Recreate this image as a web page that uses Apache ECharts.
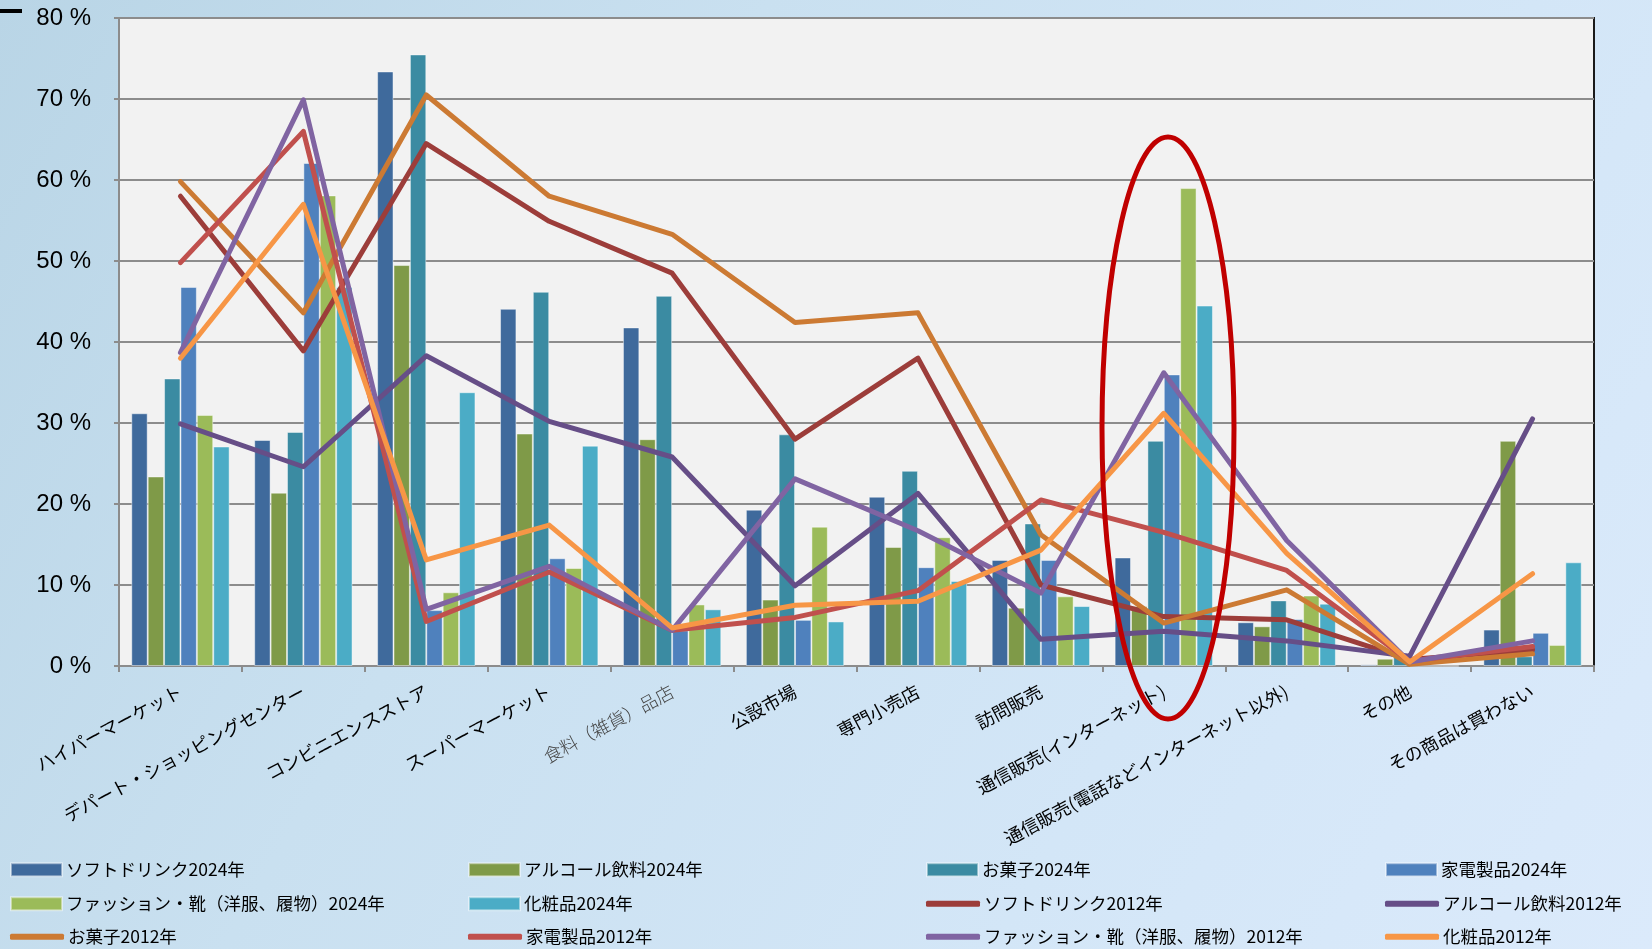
<!DOCTYPE html>
<html><head><meta charset="utf-8">
<script src="https://cdn.jsdelivr.net/npm/echarts@6/dist/echarts.min.js"></script>
<style>html,body{margin:0;padding:0;background:#cfe3f3;}#c{width:1652px;height:949px;}</style>
</head><body><div id="c"></div>
<script>
const categories = ['ハイパーマーケット','デパート・ショッピングセンター','コンビニエンスストア','スーパーマーケット','食料（雑貨）品店','公設市場','専門小売店','訪問販売','通信販売(インターネット)','通信販売(電話などインターネット以外)','その他','その商品は買わない'];
const yTicks = [0,10,20,30,40,50,60,70,80];

const soft2024  = [31.2, 27.9, 73.4, 44.1, 41.8, 19.3, 20.9, 13.1, 13.4, 5.4, 0.2, 4.5];
const alc2024   = [23.4, 21.4, 49.5, 28.7, 28.0, 8.2, 14.7, 7.2, 7.4, 4.9, 0.9, 27.8];
const snack2024 = [35.5, 28.9, 75.5, 46.2, 45.7, 28.6, 24.1, 17.6, 27.8, 8.1, 1.5, 1.2];
const appl2024  = [46.8, 62.1, 6.9, 13.3, 4.4, 5.7, 12.2, 13.1, 36.0, 5.8, 0, 4.1];
const fash2024  = [31.0, 58.1, 9.1, 12.1, 7.6, 17.2, 15.9, 8.6, 59.0, 8.7, 0, 2.6];
const cosm2024  = [27.1, 46.8, 33.8, 27.2, 7.0, 5.5, 10.5, 7.4, 44.5, 7.7, 0, 12.8];

const soft2012  = [58.0, 38.9, 64.5, 54.9, 48.5, 28.0, 38.0, 10.0, 6.1, 5.7, 0.8, 2.0];
const alc2012   = [29.9, 24.6, 38.3, 30.2, 25.8, 9.9, 21.3, 3.3, 4.3, 3.1, 1.2, 30.5];
const snack2012 = [59.8, 43.6, 70.5, 58.0, 53.3, 42.4, 43.6, 16.2, 5.3, 9.4, 0.2, 1.5];
const appl2012  = [49.8, 66.0, 5.5, 11.6, 4.4, 6.0, 9.3, 20.5, 16.5, 11.8, 0.6, 2.4];
const fash2012  = [38.7, 69.9, 7.0, 12.3, 4.4, 23.1, 16.7, 9.0, 36.2, 15.5, 0.5, 3.1];
const cosm2012  = [38.0, 57.0, 13.1, 17.4, 4.7, 7.5, 8.0, 14.3, 31.2, 13.9, 0.5, 11.4];

const barDefs = [
  ['ソフトドリンク2024年', soft2024, '#3F6A9C'],
  ['アルコール飲料2024年', alc2024, '#7F9A48'],
  ['お菓子2024年', snack2024, '#3B8BA2'],
  ['家電製品2024年', appl2024, '#4F81BD'],
  ['ファッション・靴（洋服、履物）2024年', fash2024, '#9BBB59'],
  ['化粧品2024年', cosm2024, '#4BACC6']
];
const lineDefs = [
  ['ソフトドリンク2012年', soft2012, '#9C3D3A'],
  ['アルコール飲料2012年', alc2012, '#664E87'],
  ['お菓子2012年', snack2012, '#CC7A33'],
  ['家電製品2012年', appl2012, '#C0504D'],
  ['ファッション・靴（洋服、履物）2012年', fash2012, '#8064A2'],
  ['化粧品2012年', cosm2012, '#F79646']
];

const series = [];
barDefs.forEach(([n, d, c]) => series.push({
  name: n, type: 'bar', data: d, barGap: '0%', barCategoryGap: '20%',
  itemStyle: {color: c, borderColor: 'rgba(255,255,255,0.45)', borderWidth: 1},
  z: 2
}));
lineDefs.forEach(([n, d, c]) => series.push({
  name: n, type: 'line', data: d, symbol: 'none',
  lineStyle: {color: c, width: 5, cap: 'round', join: 'round'},
  itemStyle: {color: c}, z: 3
}));

const legendOrder = [
  barDefs[0], barDefs[1], barDefs[2], barDefs[3],
  barDefs[4], barDefs[5], lineDefs[0], lineDefs[1],
  lineDefs[2], lineDefs[3], lineDefs[4], lineDefs[5]
];
const colX = [10, 468, 926, 1385];
const rowY = [871, 905, 938];
const legendFont = "'Liberation Sans Narrow', 'Noto Sans CJK JP', sans-serif";
const legends = legendOrder.map((def, i) => {
  const isLine = lineDefs.includes(def);
  return {
    data: [{name: def[0], icon: isLine ? 'roundRect' : 'rect'}],
    left: colX[i % 4], top: rowY[Math.floor(i / 4)] - 10,
    itemWidth: isLine ? 54 : 51, itemHeight: isLine ? 6 : 13, itemGap: 0,
    padding: 0, selectedMode: false,
    textStyle: {fontSize: 17.5, color: '#000', fontFamily: legendFont, padding: [0, 0, 0, -1]}
  };
});

const chart = echarts.init(document.getElementById('c'), null, {renderer: 'canvas'});
chart.setOption({
  backgroundColor: {
    type: 'linear', x: 0, y: 0, x2: 1, y2: 1,
    colorStops: [
      {offset: 0, color: '#b9d5e6'},
      {offset: 0.35, color: '#c9e0f0'},
      {offset: 0.7, color: '#d3e6f7'},
      {offset: 1, color: '#dbeafb'}
    ]
  },
  animation: false,
  legend: legends,
  grid: {left: 119, right: 58, top: 18, bottom: 283, show: true,
         backgroundColor: '#F2F2F2', borderColor: '#1a1a1a', borderWidth: 2},
  xAxis: {
    type: 'category', data: categories,
    axisLine: {lineStyle: {color: '#8c8c8c', width: 2}},
    axisTick: {show: true, interval: 0, length: 6, lineStyle: {color: '#8c8c8c', width: 2}},
    axisLabel: {
      interval: 0, rotate: 28, margin: 24, fontSize: 18, color: '#000',
      fontFamily: "'Noto Sans CJK JP', sans-serif",
      formatter: function (v) { return v === '食料（雑貨）品店' ? '{thin|' + v + '}' : v; },
      rich: {thin: {fontSize: 18, color: '#444', fontFamily: "'Noto Sans CJK JP', serif", fontWeight: 300}}
    }
  },
  yAxis: {
    type: 'value', min: yTicks[0], max: yTicks[yTicks.length - 1], interval: 10,
    axisLine: {show: true, lineStyle: {color: '#8c8c8c', width: 2}},
    axisTick: {show: true, length: 5, lineStyle: {color: '#8c8c8c', width: 2}},
    splitLine: {lineStyle: {color: '#8c8c8c', width: 2}},
    axisLabel: {formatter: '{value} %', fontSize: 24, color: '#000', margin: 28,
                fontFamily: "'Liberation Sans Narrow', 'Arial Narrow', sans-serif"}
  },
  graphic: [
    {type: 'rect', left: 0, top: 9, shape: {width: 22, height: 4}, style: {fill: '#000'}, z: 100},
    {type: 'ellipse', shape: {cx: 1168, cy: 428, rx: 66, ry: 291},
     style: {fill: 'none', stroke: '#C00000', lineWidth: 5}, z: 100}
  ],
  series: series
});
</script>
</body></html>
